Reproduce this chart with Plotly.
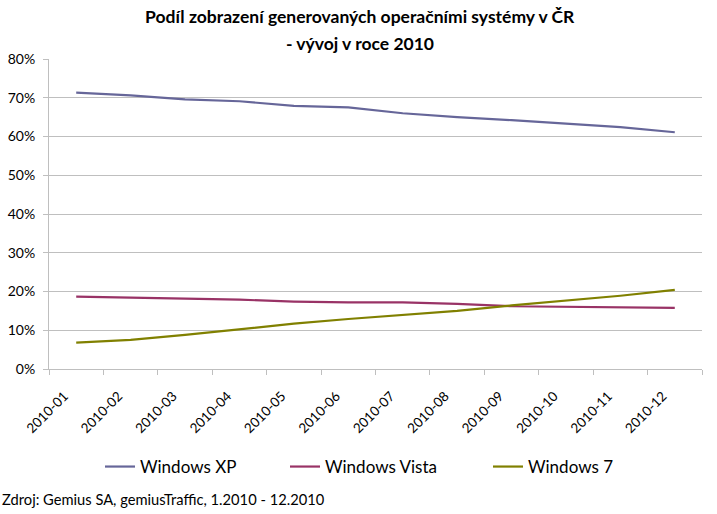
import plotly.graph_objects as go

months = ["2010-01", "2010-02", "2010-03", "2010-04", "2010-05", "2010-06",
          "2010-07", "2010-08", "2010-09", "2010-10", "2010-11", "2010-12"]
xp = [0.713, 0.706, 0.696, 0.691, 0.679, 0.675, 0.660, 0.650, 0.642, 0.633, 0.624, 0.611]
vista = [0.187, 0.184, 0.181, 0.179, 0.174, 0.172, 0.172, 0.168, 0.162, 0.161, 0.159, 0.158]
win7 = [0.068, 0.075, 0.088, 0.102, 0.117, 0.129, 0.139, 0.150, 0.164, 0.176, 0.189, 0.204]
series_names = ["Windows XP", "Windows Vista", "Windows 7"]
colors = ["#666699", "#993366", "#808000"]
title_lines = ["Podíl zobrazení generovaných operačními systémy v ČR", "- vývoj v roce 2010"]
source_text = "Zdroj: Gemius SA, gemiusTraffic, 1.2010 - 12.2010"

FONT = "Lato"
L, R, T, B = 49, 15, 59, 145
W, H = 717, 514
PW, PH = W - L - R, H - T - B

legend_ids = ["legend", "legend2", "legend3"]
legend_x_px = [100, 285, 488]

fig = go.Figure()
for name, vals, col, lid in zip(series_names, [xp, vista, win7], colors, legend_ids):
    fig.add_trace(go.Scatter(x=months, y=vals, name=name, mode="lines", legend=lid,
                             line=dict(color=col, width=2.2)))

legend_common = dict(orientation="h", xref="container", yref="container",
                     xanchor="left", y=1 - 467 / H, yanchor="middle",
                     font=dict(family=FONT, size=17, color="black"),
                     itemwidth=30, bgcolor="rgba(0,0,0,0)")

fig.update_layout(
    width=W, height=H,
    margin=dict(l=L, r=R, t=T, b=B, autoexpand=False),
    paper_bgcolor="white", plot_bgcolor="white",
    font=dict(family=FONT, color="black", size=13),
    showlegend=True,
    legend=dict(x=legend_x_px[0] / W, **legend_common),
    legend2=dict(x=legend_x_px[1] / W, **legend_common),
    legend3=dict(x=legend_x_px[2] / W, **legend_common),
    xaxis=dict(type="category", tickson="boundaries", showgrid=False,
               showline=True, linecolor="#BFBFBF", linewidth=1,
               ticks="outside", ticklen=5, tickcolor="#BFBFBF",
               tickangle=-45, ticklabelstandoff=13, ticklabelshift=-12,
               tickfont=dict(family=FONT, size=13.5, color="black"),
               range=[-0.5, 11.5]),
    yaxis=dict(range=[0, 0.8], dtick=0.1, tickformat=".0%",
               showgrid=True, gridcolor="#BFBFBF", gridwidth=1,
               showline=True, linecolor="#BFBFBF", linewidth=1,
               ticks="outside", ticklen=5, tickcolor="#BFBFBF",
               ticklabelstandoff=5,
               zeroline=False, tickfont=dict(family=FONT, size=14, color="black")),
)

for line, ypx in zip(title_lines, [17, 43]):
    fig.add_annotation(text="<b>" + line + "</b>", xref="paper", yref="paper",
                       x=(360 - L) / PW, xanchor="center",
                       y=(H - B - ypx) / PH, yanchor="middle", showarrow=False,
                       font=dict(family=FONT, size=17.5, color="black"))

fig.add_annotation(text=source_text,
                   xref="paper", yref="paper", x=(0 - L) / PW, xanchor="left",
                   y=(H - B - 499) / PH, yanchor="middle", showarrow=False,
                   font=dict(family=FONT, size=14.7, color="black"))

fig.write_html("out.html", post_script="document.body.style.margin='0';",
               config={"displayModeBar": False})
